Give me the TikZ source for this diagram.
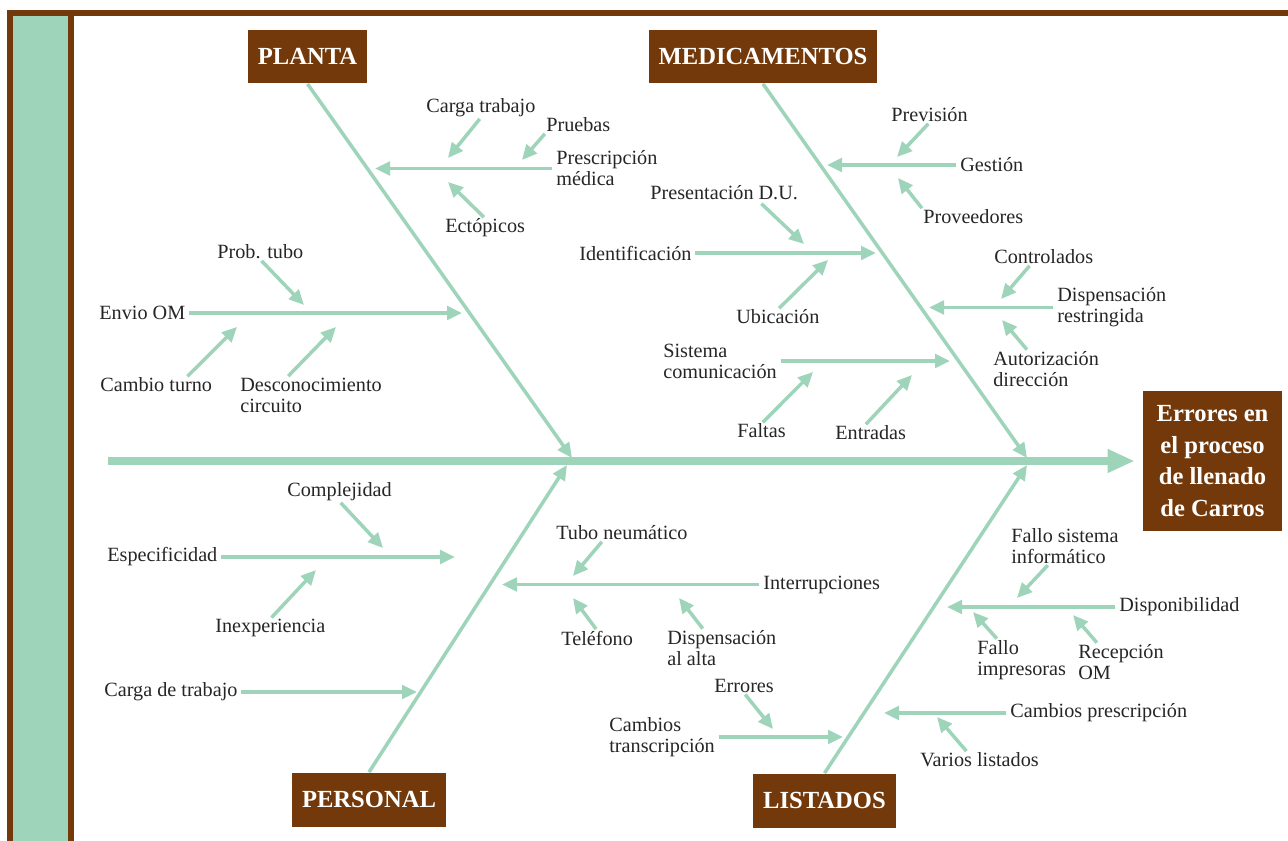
\documentclass[tikz,border=0pt]{standalone}
\usepackage{fontspec}
\setmainfont{Liberation Serif}
\usetikzlibrary{arrows.meta}
\definecolor{fishbrown}{RGB}{115,57,10}
\definecolor{fishgreen}{RGB}{158,212,186}

\begin{document}
\begin{tikzpicture}[x=0.02cm, y=-0.02cm,
    cause/.style={fill=fishbrown, text=white, inner xsep=0.2cm, minimum height=1.08cm,
        font=\fontsize{14}{18}\selectfont\bfseries},
    lbl/.style={anchor=west, inner sep=0pt, align=left, text=black!85,
        font=\fontsize{11.5}{12}\selectfont},
    bone/.style={draw=fishgreen, line width=0.07cm, -{Triangle[length=0.3cm,width=0.27cm]}},
    branch/.style={bone, shorten <=2pt},
    twig/.style={bone, shorten <=1pt}]

    % Frame
    \useasboundingbox (0,0) rectangle (1288,841);
    \fill[white] (0,0) rectangle (1288,841);
    \fill[fishbrown] (7,10) rectangle (1288,16);
    \fill[fishbrown] (7,10) rectangle (74,841);
    \fill[fishgreen] (13,16) rectangle (68,841);

    % Effect and spine
    \node[cause, minimum width=2.78cm, minimum height=2.8cm, align=center] (efecto) at (1212.5,461)
        {Errores en\\el proceso\\de llenado\\de Carros};
    \coordinate (s0) at (108,461);
    \draw[draw=fishgreen, line width=0.15cm, -{Triangle[length=0.54cm,width=0.44cm]},
        shorten >=0.16cm] (s0) -- (efecto.west);

    % Causes
    \node[cause] (planta) at (307.5,56.5) {PLANTA};
    \node[cause] (medic) at (763,56.5) {MEDICAMENTOS};
    \node[cause] (personal) at (369,799.5) {PERSONAL};
    \node[cause] (listados) at (824.5,800.5) {LISTADOS};

    \coordinate (cp) at (572,458);
    \coordinate (cm) at (1027,458);
    \coordinate (cq) at (567,465);
    \coordinate (cl) at (1027,465);
    \draw[bone] (planta.south) -- (cp);
    \draw[bone] (medic.south) -- (cm);
    \draw[bone] (personal.north) -- (cq);
    \draw[bone] (listados.north) -- (cl);

    % Planta
    \node[lbl] (cargat) at (426,108) {Carga trabajo};
    \node[lbl] (pruebas) at (546,125) {Pruebas};
    \node[lbl] (presc) at (556,168.5) {Prescripción\\médica};
    \node[lbl] (ecto) at (445,228) {Ectópicos};
    \node[lbl] (envio) at (99,313) {Envio OM};
    \node[lbl] (probtubo) at (217,252) {Prob. tubo};
    \node[lbl] (cambio) at (100,385) {Cambio turno};
    \node[lbl] (descon) at (240,395) {Desconocimiento\\circuito};

    \coordinate (b1) at (375,168.5);
    \coordinate (b2) at (462,313);
    \draw[branch] (presc.west) -- (b1);
    \draw[branch] (envio.east) -- (b2);
    \coordinate (t1) at (448,158);
    \coordinate (t2) at (522,160);
    \coordinate (t3) at (448,182);
    \coordinate (t4) at (304,305);
    \coordinate (t5) at (237,327);
    \coordinate (t6) at (336,327);
    \draw[twig] (cargat.south) -- (t1);
    \draw[twig] (pruebas.south west) -- (t2);
    \draw[twig] (ecto.north) -- (t3);
    \draw[twig] (probtubo.south) -- (t4);
    \draw[twig] ([shift={(30,0)}]cambio.north) -- (t5);
    \draw[twig] ([shift={(-24,0)}]descon.north) -- (t6);

    % Medicamentos
    \node[lbl] (prevision) at (891,115) {Previsión};
    \node[lbl] (gestion) at (960,165) {Gestión};
    \node[lbl] (proveed) at (923,217) {Proveedores};
    \node[lbl] (presen) at (650,193) {Presentación D.U.};
    \node[lbl] (ident) at (579,253) {Identificación};
    \node[lbl] (ubic) at (736,317) {Ubicación};
    \node[lbl] (control) at (994,257) {Controlados};
    \node[lbl] (dispr) at (1057,307.5) {Dispensación\\restringida};
    \node[lbl] (autor) at (993,369) {Autorización\\dirección};
    \node[lbl] (sistema) at (663,361) {Sistema\\comunicación};
    \node[lbl] (faltas) at (737,431) {Faltas};
    \node[lbl] (entradas) at (835,433) {Entradas};

    \coordinate (b3) at (827,165);
    \coordinate (b4) at (876,253);
    \coordinate (b5) at (929,307.5);
    \coordinate (b6) at (950,361);
    \draw[branch] (gestion.west) -- (b3);
    \draw[branch] (ident.east) -- (b4);
    \draw[branch] (dispr.west) -- (b5);
    \draw[branch] (sistema.east) -- (b6);
    \coordinate (t7) at (897,157);
    \coordinate (t8) at (898,178);
    \coordinate (t9) at (804,244);
    \coordinate (t10) at (828,260);
    \coordinate (t11) at (1001,299);
    \coordinate (t12) at (1002,320);
    \coordinate (t13) at (813,372);
    \coordinate (t14) at (912,375);
    \draw[twig] (prevision.south) -- (t7);
    \draw[twig] (proveed.north west) -- (t8);
    \draw[twig] ([shift={(36,2)}]presen.south) -- (t9);
    \draw[twig] (ubic.north) -- (t10);
    \draw[twig] ([shift={(-13,0)}]control.south) -- (t11);
    \draw[twig] ([shift={(-18,0)}]autor.north) -- (t12);
    \draw[twig] (faltas.north) -- (t13);
    \draw[twig] ([shift={(-6,0)}]entradas.north) -- (t14);

    % Personal
    \node[lbl] (complej) at (287,492) {Complejidad};
    \node[lbl] (especif) at (107,557) {Especificidad};
    \node[lbl] (inexp) at (215,628) {Inexperiencia};
    \node[lbl] (cargad) at (104,692) {Carga de trabajo};

    \coordinate (b7) at (455,557);
    \coordinate (b8) at (417,692);
    \draw[branch] (especif.east) -- (b7);
    \draw[branch] (cargad.east) -- (b8);
    \coordinate (t15) at (383,548);
    \coordinate (t16) at (316,570);
    \draw[twig] (complej.south) -- (t15);
    \draw[twig] (inexp.north) -- (t16);

    % Listados
    \node[lbl] (tubo) at (556,533) {Tubo neumático};
    \node[lbl] (interr) at (763,584.5) {Interrupciones};
    \node[lbl] (telef) at (561,638) {Teléfono};
    \node[lbl] (dispa) at (667,648) {Dispensación\\al alta};
    \node[lbl] (errores) at (714,686) {Errores};
    \node[lbl] (cambiost) at (609,737) {Cambios\\transcripción};
    \node[lbl] (fallosis) at (1011,546) {Fallo sistema\\informático};
    \node[lbl] (dispon) at (1119,607) {Disponibilidad};
    \node[lbl] (falloimp) at (977,660) {Fallo\\impresoras};
    \node[lbl] (recep) at (1078,662) {Recepción\\OM};
    \node[lbl] (cambiosp) at (1010,713) {Cambios prescripción};
    \node[lbl] (varios) at (920,760) {Varios listados};

    \coordinate (b9) at (502,584.5);
    \coordinate (b10) at (843,737);
    \coordinate (b11) at (947,607);
    \coordinate (b12) at (884,713);
    \draw[branch] (interr.west) -- (b9);
    \draw[branch] (cambiost.east) -- (b10);
    \draw[branch] (dispon.west) -- (b11);
    \draw[branch] (cambiosp.west) -- (b12);
    \coordinate (t17) at (573,576);
    \coordinate (t18) at (573,598);
    \coordinate (t19) at (679,598);
    \coordinate (t20) at (773,729);
    \coordinate (t21) at (1017,598);
    \coordinate (t22) at (973,612);
    \coordinate (t23) at (1073,615);
    \coordinate (t24) at (937,717);
    \draw[twig] ([shift={(-19,0)}]tubo.south) -- (t17);
    \draw[twig] (telef.north) -- (t18);
    \draw[twig] ([shift={(-18,0)}]dispa.north) -- (t19);
    \draw[twig] (errores.south) -- (t20);
    \draw[twig] ([shift={(-16,0)}]fallosis.south) -- (t21);
    \draw[twig] ([shift={(21,0)}]falloimp.north west) -- (t22);
    \draw[twig] ([shift={(20,0)}]recep.north west) -- (t23);
    \draw[twig] ([shift={(-12,0)}]varios.north) -- (t24);
\end{tikzpicture}
\end{document}
